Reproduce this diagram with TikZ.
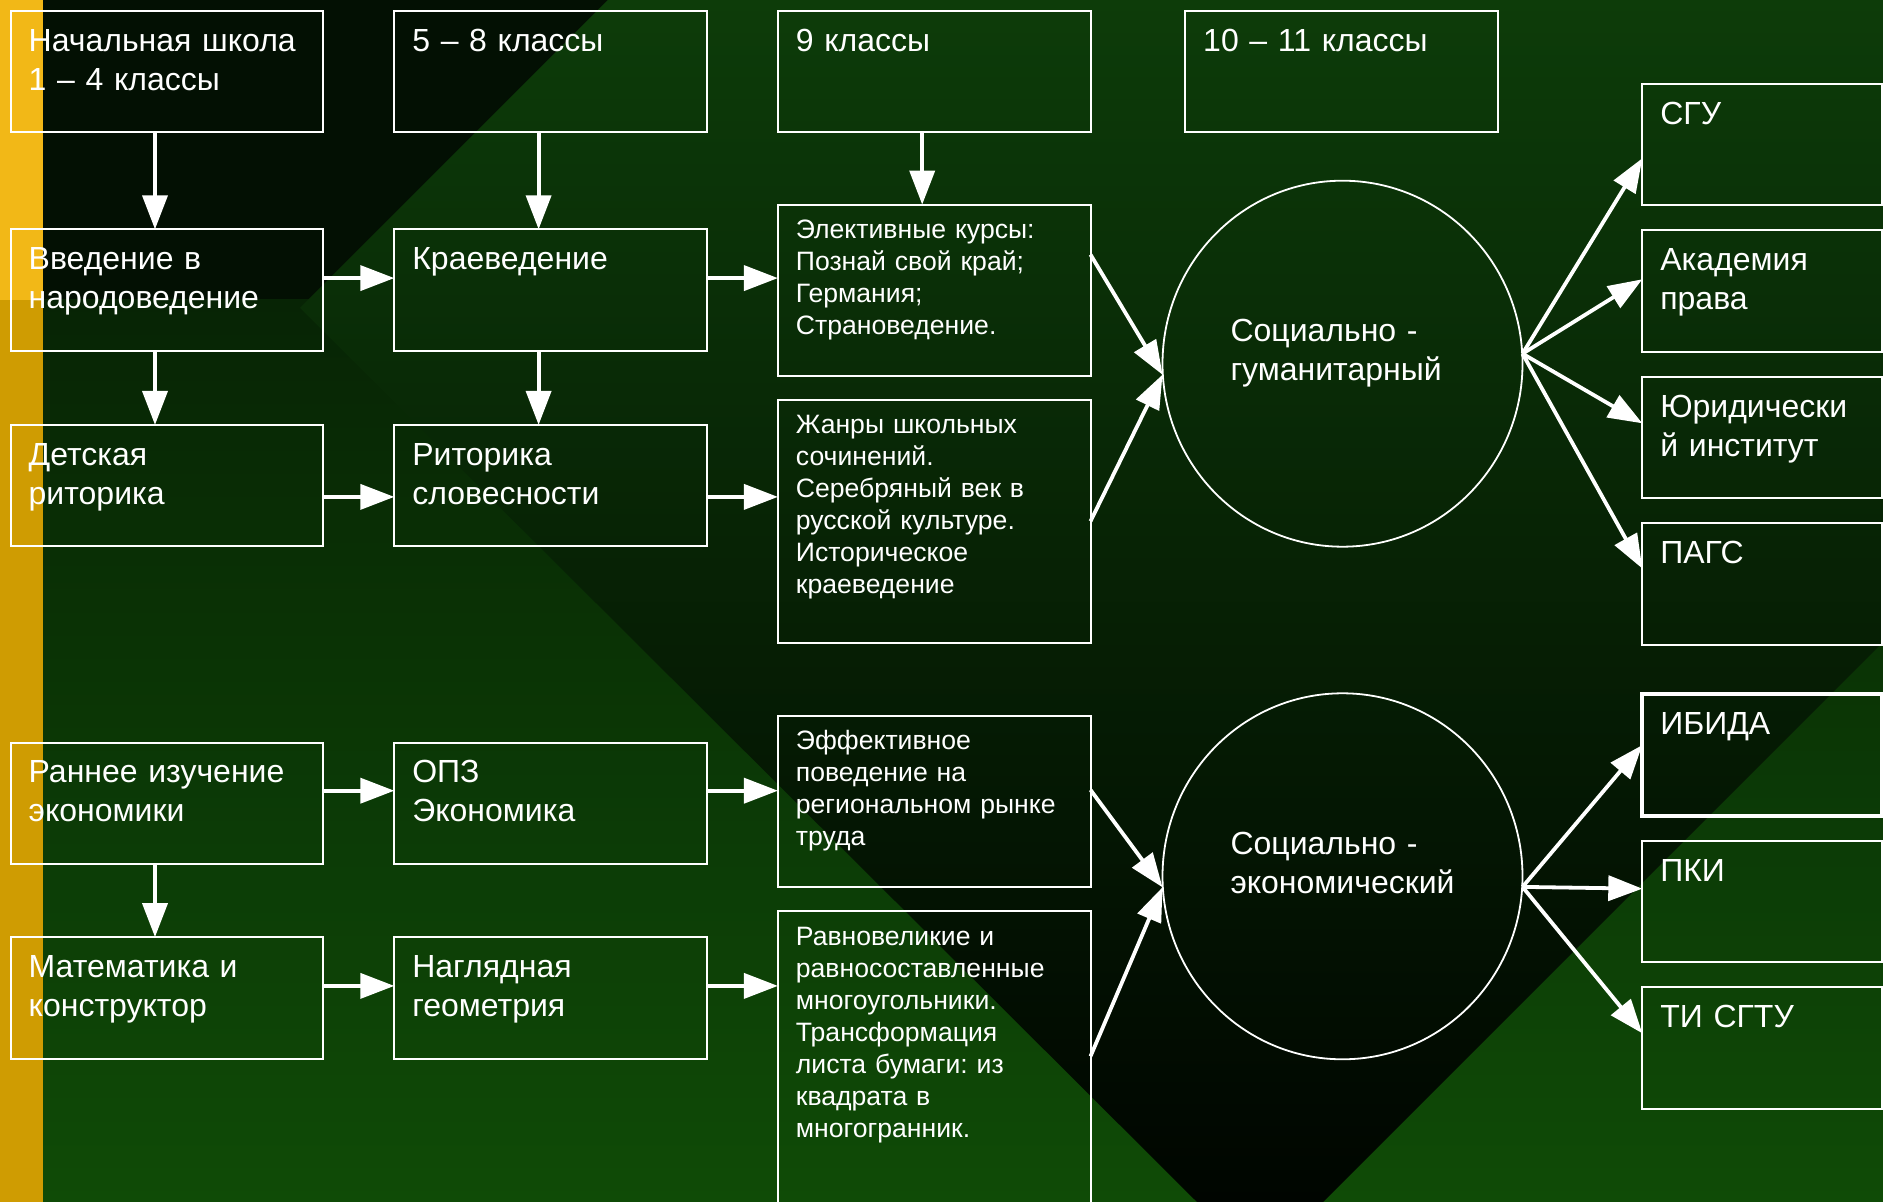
\documentclass[tikz,border=0pt]{standalone}
\usepackage{fontspec}
\setmainfont{Liberation Sans}
\usetikzlibrary{arrows.meta,positioning,shapes.geometric}
\frenchspacing
\newcommand\bigtxt{\fontsize{16}{19.5}\selectfont}
\newcommand\smalltxt{\fontsize{13.3}{16}\selectfont}
\definecolor{gold}{HTML}{F2B817}
\definecolor{golddark}{HTML}{CF9C02}
\definecolor{nightgreen}{HTML}{031003}
\definecolor{bgtop}{HTML}{072405}
\definecolor{bgbot}{HTML}{0F4B06}
\definecolor{dmtop}{HTML}{0D3C09}
\definecolor{dmbot}{HTML}{000500}
\begin{document}
\begin{tikzpicture}[x=0.5pt, y=-0.5pt,
  font=\bigtxt, text=white,
  >={Triangle[length=17pt,width=12.5pt]},
  box/.style={draw=white, line width=1pt, outer sep=0pt, inner xsep=9pt, inner ysep=0pt,
              text width=138.3pt, align=left, text height=20.2pt, text depth=40.6pt},
  tall/.style={box, font=\smalltxt, text height=17pt, text depth=#1},
  uni/.style={box, text width=102pt},
  circ/.style={draw=white, line width=0.9pt, ellipse, outer sep=0pt, inner sep=0pt,
               minimum width=180pt, minimum height=183pt, text width=112pt, align=left,
               text height=12pt, text depth=34pt},
  arr/.style={->, white, line width=1.9pt}]
\useasboundingbox (0,0) rectangle (1883,1202);
\fill[nightgreen] (0,0) rectangle (1883,300);
\shade[top color=bgtop, bottom color=bgbot] (0,300) rectangle (1883,1202);
\shade[top color=dmtop, bottom color=dmbot] (608,0) -- (1883,0) -- (1883,642)
  -- (1323,1202) -- (1197,1202) -- (300,308) -- cycle;
\fill[gold] (0,0) rectangle (42.7,300);
\fill[golddark] (0,300) rectangle (42.7,1202);

\node[box, anchor=north west] (prim) at (10.7,10.7) {Начальная школа\\1 – 4 классы};
\node[box, right=35.5pt of prim] (g58) {5 – 8 классы};
\node[box, right=35.5pt of g58] (g9) {9 классы};
\node[box, right=47.35pt of g9] (g1011) {10 – 11 классы};
\node[box, below=48.5pt of prim] (narod) {Введение в\\народоведение};
\node[box, right=35.5pt of narod] (kraev) {Краеведение};
\node[tall=68.5pt, right=35.5pt of kraev] (elect)
  {Элективные курсы:\\Познай свой край;\\Германия;\\Страноведение.};
\node[box, below=37pt of narod] (detrit) {Детская\\риторика};
\node[box, right=35.5pt of detrit] (slovo) {Риторика\\словесности};
\node[tall=104.35pt, below=12.15pt of elect] (genre)
  {Жанры школьных\\сочинений.\\Серебряный век в\\русской культуре.\\Историческое\\краеведение};
\node[box, below=98pt of detrit] (econ) {Раннее изучение\\экономики};
\node[box, right=35.5pt of econ] (opz) {ОПЗ\\Экономика};
\node[tall=68.5pt, below=36.65pt of genre] (market)
  {Эффективное\\поведение на\\региональном рынке\\труда};
\node[box, below=36.5pt of econ] (math) {Математика и\\конструктор};
\node[box, right=35.5pt of math] (geom) {Наглядная\\геометрия};
\node[tall=143pt, below=12.2pt of market] (poly)
  {Равновеликие и\\равносоставленные\\многоугольники.\\Трансформация\\листа бумаги: из\\квадрата в\\многогранник.};

\node[circ] (hum) at (1342.5,363.7) {Социально -\\гуманитарный};
\node[circ, below=73.3pt of hum] (soc) {Социально -\\экономический};

\node[uni, anchor=north west] (sgu) at (1642.3,83.7) {СГУ};
\node[uni, below=12.5pt of sgu] (law) {Академия\\права};
\node[uni, below=12.5pt of law] (jur) {Юридически\\й институт};
\node[uni, below=12.5pt of jur] (pags) {ПАГС};
\node[uni, line width=2pt, below=24.5pt of pags] (ibida) {ИБИДА};
\node[uni, below=12.5pt of ibida] (pki) {ПКИ};
\node[uni, below=12.5pt of pki] (sgtu) {ТИ СГТУ};

\foreach \a/\b in {prim/narod, g58/kraev, g9/elect, narod/detrit, kraev/slovo, econ/math}
  \draw[arr] ([xshift=-6pt]\a.south) -- ([xshift=-6pt]\b.north);
\foreach \a/\b/\s in {narod/kraev/6pt, kraev/elect/6pt, detrit/slovo/-5.6pt, slovo/genre/-5.6pt,
                      econ/opz/6.3pt, opz/market/6.3pt, math/geom/6pt, geom/poly/6pt}
  \draw[arr] ([yshift=\s]\a.east) -- ([yshift=\s]\a.east -| \b.west);
\draw[arr] ([yshift=-25pt]elect.north east) -- ([yshift=-5.5pt]hum.west);
\draw[arr] (genre.east) -- ([yshift=-5.5pt]hum.west);
\draw[arr] ([yshift=-37pt]market.north east) -- ([yshift=-5.5pt]soc.west);
\draw[arr] ([yshift=-72.5pt]poly.north east) -- ([yshift=-5.5pt]soc.west);
\foreach \b/\s in {sgu/-37.3pt, law/-24.5pt, jur/-23.2pt, pags/-22.5pt}
  \draw[arr] ([yshift=5pt]hum.east) -- ([yshift=\s]\b.north west);
\foreach \b/\s in {ibida/-25.5pt, pki/-24pt, sgtu/-23pt}
  \draw[arr] ([yshift=-5.3pt]soc.east) -- ([yshift=\s]\b.north west);
\end{tikzpicture}
\end{document}
